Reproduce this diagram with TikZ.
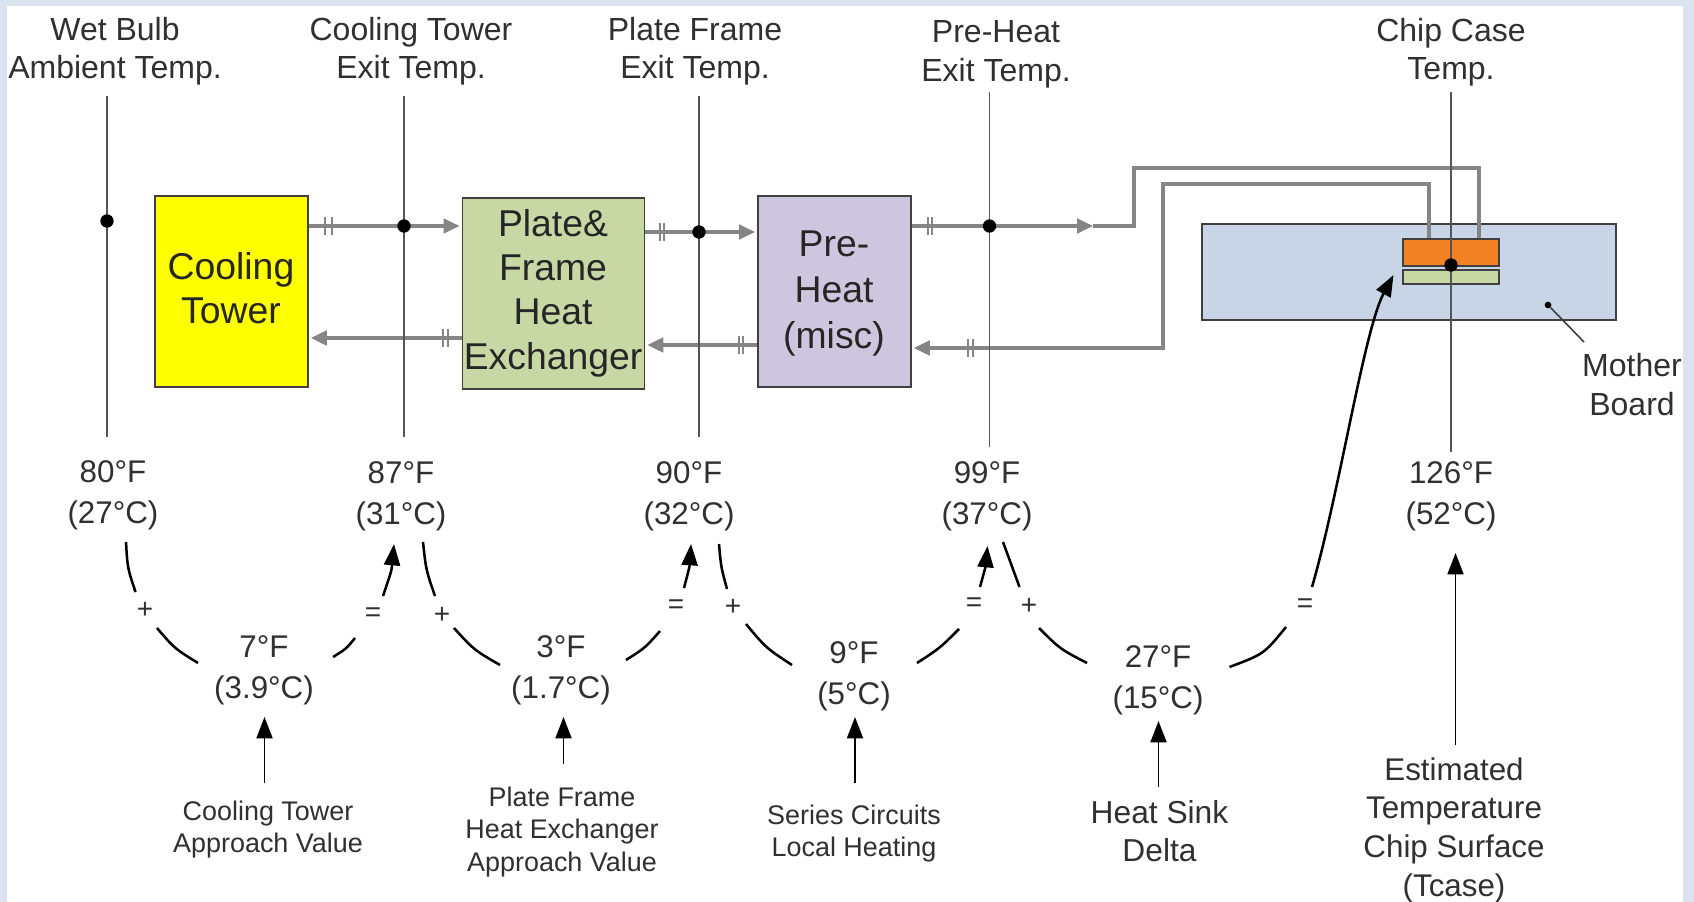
\documentclass[tikz,border=0pt]{standalone}
\usepackage{fontspec}
\setmainfont{Liberation Sans}
\usetikzlibrary{arrows.meta}
\definecolor{pagebg}{HTML}{DAE4F0}
\definecolor{txt}{HTML}{303030}
\definecolor{flow}{HTML}{858585}
\definecolor{edge}{HTML}{404040}
\definecolor{vline}{HTML}{555555}
\definecolor{ctyellow}{RGB}{255,255,0}
\tikzset{
  lab/.style={text=txt,align=center,inner sep=0pt,font=\fontsize{24}{28.8}\selectfont},
  temp/.style={lab,font=\fontsize{23.5}{30.5}\selectfont},
  small/.style={lab,font=\fontsize{20.2}{24}\selectfont},
  plain/.style={draw=edge,line width=1.4pt,inner sep=0pt},
  probe/.style={draw=vline,line width=1.4pt},
  pipe/.style={draw=flow,line width=2.3pt},
  flowarrow/.style={pipe,-{Triangle[length=12pt,width=11pt]}},
  curve/.style={draw=black,line width=1.9pt},
  curvearrow/.style={curve,-{Triangle[length=16pt,width=12pt]}},
  uparrow/.style={draw=black,line width=1.4pt,-{Triangle[length=16pt,width=12pt]}},
  op/.style={text=txt,inner sep=0pt,font=\fontsize{21}{22}\selectfont},
  bar/.style={draw=flow,line width=1.6pt},
  tdot/.style={circle,fill=black,inner sep=0pt,minimum size=10pt},
  sdot/.style={circle,fill=black,inner sep=0pt,minimum size=5pt},
}
\newcommand{\twobars}[3]{\draw[bar] (#1,#3-9) -- (#1,#3+9); \draw[bar] (#2,#3-9) -- (#2,#3+9);}
\begin{document}
\begin{tikzpicture}[x=0.75pt,y=-0.75pt]
\useasboundingbox (0,0) rectangle (1694,902);
\fill[pagebg] (0,0) rectangle (1694,902);
\fill[white] (7,6) rectangle (1683,902);

% probes
\coordinate (p1t) at (107,96);  \coordinate (p1b) at (107,437);
\coordinate (p2t) at (404,96);  \coordinate (p2b) at (404,437);
\coordinate (p3t) at (699,96);  \coordinate (p3b) at (699,437);
\coordinate (p4t) at (989.5,92);  \coordinate (p4b) at (989.5,447);
\coordinate (p5t) at (1451,92); \coordinate (p5b) at (1451,452);

% boxes
\node[plain,fill=ctyellow,minimum width=153*0.75pt,minimum height=191*0.75pt,anchor=north west] (ct) at (154,195) {};
\node[plain,fill={rgb,255:red,200;green,216;blue,165},minimum width=182*0.75pt,minimum height=191*0.75pt,anchor=north west] (hx) at (461.5,197) {};
\node[plain,fill={rgb,255:red,206;green,198;blue,222},minimum width=153*0.75pt,minimum height=191*0.75pt,anchor=north west] (ph) at (757,195) {};
\node[plain,fill={rgb,255:red,200;green,213;blue,230},minimum width=414*0.75pt,minimum height=96*0.75pt,anchor=north west] (mb) at (1201,223) {};
\node[plain,fill={rgb,255:red,243;green,130;blue,36},minimum width=96*0.75pt,minimum height=27*0.75pt,anchor=north west] (chip) at (1402,238) {};
\node[plain,fill={rgb,255:red,200;green,216;blue,165},minimum width=96*0.75pt,minimum height=14*0.75pt,anchor=north west] (sink) at (1402,269) {};

\node[lab,font=\fontsize{28}{33}\selectfont,text=black!85] (ctl) at (231,288) {Cooling\\Tower};
\node[lab,font=\fontsize{28}{33.3}\selectfont,text=black!85] (hxl) at (553,293) {Plate\&\\Frame\\Heat\\Exchanger};
\node[lab,font=\fontsize{28}{34.5}\selectfont,text=black!85] (phl) at (834,294) {Pre-\\Heat\\(misc)};

% flow pipes
\coordinate (f1a) at (ct.east |- 0,226);  \coordinate (f1b) at (hx.west |- 0,226);
\coordinate (r1a) at (hx.west |- 0,338);  \coordinate (r1b) at (ct.east |- 0,338);
\coordinate (f2a) at (hx.east |- 0,232);  \coordinate (f2b) at (ph.west |- 0,232);
\coordinate (r2a) at (ph.west |- 0,345);  \coordinate (r2b) at (hx.east |- 0,345);
\coordinate (f3a) at (ph.east |- 0,226);  \coordinate (f3b) at (1093,226);
\coordinate (r3b) at (ph.east |- 0,348);
\coordinate (c1) at (1479,238);
\coordinate (c2) at (1429,238);

\draw[flowarrow,shorten >=1.5pt] (f1a) -- (f1b);
\draw[flowarrow,shorten >=1.5pt] (r1a) -- (r1b);
\draw[flowarrow,shorten >=1.5pt] (f2a) -- (f2b);
\draw[flowarrow,shorten >=1.5pt] (r2a) -- (r2b);
\draw[flowarrow] (f3a) -- (f3b);
\draw[pipe] (f3b) -- (1134,226) -- (1134,168) -- (1479,168) -- (c1);
\draw[flowarrow,shorten >=1.5pt] (c2) -- (1429,184) -- (1163,184) -- (1163,348) -- (r3b);
\twobars{325}{332}{226}
\twobars{443}{448}{338}
\twobars{660}{664}{232}
\twobars{739}{743}{345}
\twobars{928}{932}{226}
\twobars{968}{973}{348}

\draw[probe] (p1t) -- (p1b);
\draw[probe] (p2t) -- (p2b);
\draw[probe] (p3t) -- (p3b);
\draw[probe] (p4t) -- (p4b);
\draw[probe] (p5t) -- (p5b);

\node[tdot] (d1) at (107,221) {};
\node[tdot] (d2) at (404,226) {};
\node[tdot] (d3) at (699,232) {};
\node[tdot] (d4) at (989.5,226) {};
\node[tdot] (d5) at (1451,265) {};

% board pointer
\node[sdot] (mbd) at (1548,305) {};
\coordinate (mbe) at (1584,342);
\draw[draw=edge,line width=1.2pt] (mbd) -- (mbe);

% top labels
\node[lab] (t1) at (115,51.5) {Wet Bulb\\Ambient Temp.};
\node[lab] (t2) at (411,51.5) {Cooling Tower\\Exit Temp.};
\node[lab] (t3) at (695,51.5) {Plate Frame\\Exit Temp.};
\node[lab] (t4) at (996,54.5) {Pre-Heat\\Exit Temp.};
\node[lab] (t5) at (1451,52.5) {Chip Case\\Temp.};
\node[lab] (t6) at (1632,384.5) {Mother\\Board};

% temperatures
\node[temp] (a1) at (113,495) {80°F\\(27°C)};
\node[temp] (a2) at (401,496) {87°F\\(31°C)};
\node[temp] (a3) at (689,496) {90°F\\(32°C)};
\node[temp] (a4) at (987,496) {99°F\\(37°C)};
\node[temp] (a5) at (1451,496) {126°F\\(52°C)};
\node[temp] (b1) at (264,670) {7°F\\(3.9°C)};
\node[temp] (b2) at (561,670.5) {3°F\\(1.7°C)};
\node[temp] (b3) at (854,676.5) {9°F\\(5°C)};
\node[temp] (b4) at (1158,680.5) {27°F\\(15°C)};

% operators
\node[op] (o1) at (145,610) {+};
\node[op] (o2) at (373,615) {=};
\node[op] (o3) at (442,615) {+};
\node[op] (o4) at (676,607) {=};
\node[op] (o5) at (733,607) {+};
\node[op] (o6) at (974,605) {=};
\node[op] (o7) at (1029,606) {+};
\node[op] (o8) at (1305,606) {=};

% curves
\coordinate (k1) at (126,542);  \coordinate (k2) at (135.5,592);
\coordinate (k3) at (157,628);  \coordinate (k4) at (198,663);
\coordinate (k5) at (333,657);  \coordinate (k6) at (355,638);
\coordinate (k7) at (383,596);  \coordinate (k8) at (394,544);
\coordinate (l1) at (423,542);  \coordinate (l2) at (435,596);
\coordinate (l3) at (454,628);  \coordinate (l4) at (500,665);
\coordinate (l5) at (626,660);  \coordinate (l6) at (660,631);
\coordinate (l7) at (684,588);  \coordinate (l8) at (691,544);
\coordinate (m1) at (719,544);  \coordinate (m2) at (727,589);
\coordinate (m3) at (746,624);  \coordinate (m4) at (792,665);
\coordinate (m5) at (917,663);  \coordinate (m6) at (959,629);
\coordinate (m7) at (980,587);  \coordinate (m8) at (987.5,546);
\coordinate (n1) at (1003,542); \coordinate (n2) at (1019.5,587);
\coordinate (n3) at (1039,628); \coordinate (n4) at (1087,663);
\coordinate (n5) at (1229.5,667); \coordinate (n6) at (1286,627);
\coordinate (n7) at (1312,587); \coordinate (n8) at (1393.5,275);

\draw[curve] (k1) .. controls (127.5,568) .. (k2);
\draw[curve] (k3) .. controls (174.5,648.5) .. (k4);
\draw[curve] (k5) .. controls (346,649) .. (k6);
\draw[curvearrow] (k7) .. controls (391.5,571) .. (k8);
\draw[curve] (l1) .. controls (426,570) .. (l2);
\draw[curve] (l3) .. controls (474,650) .. (l4);
\draw[curve] (l5) .. controls (645,648) .. (l6);
\draw[curvearrow] (l7) .. controls (689.5,567) .. (l8);
\draw[curve] (m1) .. controls (721,567) .. (m2);
\draw[curve] (m3) .. controls (766,648) .. (m4);
\draw[curve] (m5) .. controls (940,648) .. (m6);
\draw[curvearrow] (m7) .. controls (985.5,567) .. (m8);
\draw[curve] (n1) .. controls (1011,565) .. (n2);
\draw[curve] (n3) .. controls (1060,649) .. (n4);
\draw[curve] (n5) .. controls (1264,654) .. (n6);
\draw[curvearrow] (n7) .. controls (1340,490) and (1364,330) .. (n8);

% bottom notes
\node[small] (s1) at (268,830) {Cooling Tower\\Approach Value};
\node[small,font=\fontsize{20.2}{24.3}\selectfont] (s2) at (562,832) {Plate Frame\\Heat Exchanger\\Approach Value};
\node[small] (s3) at (854,834) {Series Circuits\\Local Heating};
\node[lab,font=\fontsize{23.8}{28.5}\selectfont] (s4) at (1159.5,831) {Heat Sink\\Delta};
\node[lab,font=\fontsize{23.5}{29}\selectfont] (s5) at (1454,830) {Estimated\\Temperature\\Chip Surface\\(Tcase)};

\coordinate (u1) at (264.5,783); \coordinate (v1) at (264.5,717);
\coordinate (u2) at (563.5,764); \coordinate (v2) at (563.5,717);
\coordinate (u3) at (855,783);   \coordinate (v3) at (855,717);
\coordinate (u4) at (1158.5,787);\coordinate (v4) at (1158.5,721);
\coordinate (u5) at (1455.5,745);\coordinate (v5) at (1455.5,553);
\draw[uparrow] (u1) -- (v1);
\draw[uparrow] (u2) -- (v2);
\draw[uparrow] (u3) -- (v3);
\draw[uparrow] (u4) -- (v4);
\draw[uparrow] (u5) -- (v5);
\end{tikzpicture}
\end{document}
